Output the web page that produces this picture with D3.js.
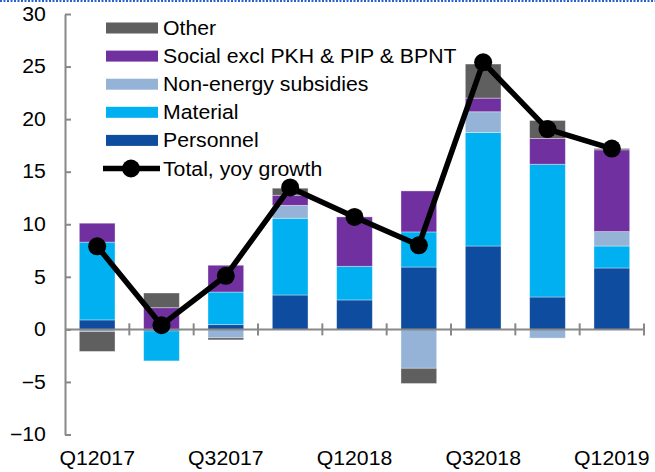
<!DOCTYPE html>
<html>
<head>
<meta charset="utf-8">
<script src="https://cdn.jsdelivr.net/npm/d3@7.9.0/dist/d3.min.js"></script>
<style>
  body { margin: 0; background: #fff; }
  svg { display: block; }
  text { font-family: "Liberation Sans", Arial, sans-serif; font-size: 19.5px; fill: #000; }
</style>
</head>
<body>
<svg id="chart" width="655" height="472"></svg>
<script>
// quarters on the x axis, only every other one is labelled
const quarters = ['Q12017', 'Q22017', 'Q32017', 'Q42017', 'Q12018', 'Q22018', 'Q32018', 'Q42018', 'Q12019'];
const shownLabels = ['Q12017', 'Q32017', 'Q12018', 'Q32018', 'Q12019'];

// contributions, % pts
const personnel = [0.9, -0.15, 0.45, 3.27, 2.8, 5.93, 7.93, 3.08, 5.84];
const material  = [7.4, -2.85, 3.1, 7.3, 3.2, 3.34, 10.8, 12.63, 2.09];
const nonEnergy = [-0.2, 0, -0.8, 1.23, 0, -3.7, 1.97, -0.83, 1.37];
const social    = [1.8, 2.06, 2.55, 0.96, 4.7, 3.9, 1.3, 2.45, 7.78];
const other     = [-1.9, 1.4, -0.2, 0.67, 0, -1.45, 3.24, 1.71, 0.13];
const total     = [7.9, 0.4, 5.1, 13.5, 10.7, 8.0, 25.4, 19.05, 17.2];

const yTicks = [-10, -5, 0, 5, 10, 15, 20, 25, 30];

const seriesKeys = ['personnel', 'material', 'nonEnergy', 'social', 'other'];
const seriesNames = {
  other: 'Other',
  social: 'Social excl PKH & PIP & BPNT',
  nonEnergy: 'Non-energy subsidies',
  material: 'Material',
  personnel: 'Personnel',
};
const colors = {
  personnel: '#0d4c9f',
  material: '#00b0f0',
  nonEnergy: '#95b3d7',
  social: '#7030a0',
  other: '#5f5f5f',
};

const rows = quarters.map((q, i) => ({
  q,
  personnel: personnel[i],
  material: material[i],
  nonEnergy: nonEnergy[i],
  social: social[i],
  other: other[i],
  total: total[i],
}));

const svg = d3.select('#chart');
const SX = 1.09; // text in the picture is a little wide

// top dotted frame line
svg.append('line')
  .attr('x1', 0).attr('x2', 655).attr('y1', 1).attr('y2', 1)
  .attr('stroke', '#2a62c9').attr('stroke-width', 2)
  .attr('stroke-dasharray', '2,1.5');

const x = d3.scaleBand()
  .domain(quarters)
  .range([65, 644])
  .paddingInner(0.445)
  .paddingOuter(0.2225);

const y = d3.scaleLinear().domain([-10, 30]).range([434.5, 14]);

const stack = d3.stack().keys(seriesKeys).offset(d3.stackOffsetDiverging);
const stacked = stack(rows);

// bars
svg.append('g')
  .selectAll('g')
  .data(stacked)
  .join('g')
  .attr('fill', d => colors[d.key])
  .selectAll('rect')
  .data(d => d.filter(s => s[1] !== s[0]))
  .join('rect')
  .attr('x', d => x(d.data.q))
  .attr('width', x.bandwidth())
  .attr('y', d => y(Math.max(d[0], d[1])))
  .attr('height', d => Math.abs(y(d[0]) - y(d[1])))
  .attr('stroke', '#fff')
  .attr('stroke-opacity', 0.45)
  .attr('stroke-width', 0.8);

// y axis, ticks pointing inwards
const yAxis = svg.append('g')
  .attr('transform', 'translate(65,0)')
  .call(d3.axisLeft(y).tickValues(yTicks).tickSize(-6).tickSizeOuter(0).tickPadding(17.5));
yAxis.select('.domain').attr('stroke', '#888').attr('stroke-width', 2);
yAxis.selectAll('.tick line').attr('stroke', '#888').attr('stroke-width', 2);
yAxis.selectAll('.tick text')
  .attr('font-size', null).attr('font-family', null)
  .attr('transform', `scale(${SX},1)`);
yAxis.attr('font-size', null).attr('font-family', null);

// x axis: line through zero with ticks between quarters
const step = x.step();
const x0 = x.range()[0];
const xAxis = svg.append('g');
xAxis.append('line')
  .attr('x1', x0).attr('x2', x0 + step * quarters.length)
  .attr('y1', y(0)).attr('y2', y(0))
  .attr('stroke', '#888').attr('stroke-width', 2);
xAxis.selectAll('line.tick')
  .data(d3.range(1, quarters.length + 1))
  .join('line')
  .attr('class', 'tick')
  .attr('x1', i => x0 + i * step).attr('x2', i => x0 + i * step)
  .attr('y1', y(0) - 6).attr('y2', y(0) + 6)
  .attr('stroke', '#888').attr('stroke-width', 2);

svg.append('g')
  .selectAll('text')
  .data(shownLabels)
  .join('text')
  .attr('text-anchor', 'middle')
  .attr('transform', d => `translate(${x(d) + x.bandwidth() / 2},465) scale(${SX},1)`)
  .text(d => d);

// total line
const line = d3.line()
  .x(d => x(d.q) + x.bandwidth() / 2)
  .y(d => y(d.total));

svg.append('path')
  .datum(rows)
  .attr('d', line)
  .attr('fill', 'none')
  .attr('stroke', '#000')
  .attr('stroke-width', 5.5)
  .attr('stroke-linejoin', 'round');

svg.append('g')
  .selectAll('circle')
  .data(rows)
  .join('circle')
  .attr('cx', d => x(d.q) + x.bandwidth() / 2)
  .attr('cy', d => y(d.total))
  .attr('r', 9)
  .attr('fill', '#000');

// legend
const legendKeys = ['other', 'social', 'nonEnergy', 'material', 'personnel'];
const legend = svg.append('g');
const rowY = i => 28 + i * 28.1;

legend.selectAll('rect')
  .data(legendKeys)
  .join('rect')
  .attr('x', 106).attr('width', 52)
  .attr('y', (d, i) => rowY(i) - 5.5).attr('height', 11)
  .attr('fill', d => colors[d]);

legend.selectAll('text')
  .data([...legendKeys.map(k => seriesNames[k]), 'Total, yoy growth'])
  .join('text')
  .attr('transform', (d, i) => `translate(163,${rowY(i) + 7}) scale(${SX},1)`)
  .text(d => d);

const ly = rowY(5);
legend.append('line')
  .attr('x1', 103).attr('x2', 160).attr('y1', ly).attr('y2', ly)
  .attr('stroke', '#000').attr('stroke-width', 5.5);
legend.append('circle')
  .attr('cx', 131).attr('cy', ly).attr('r', 9).attr('fill', '#000');
</script>
</body>
</html>
